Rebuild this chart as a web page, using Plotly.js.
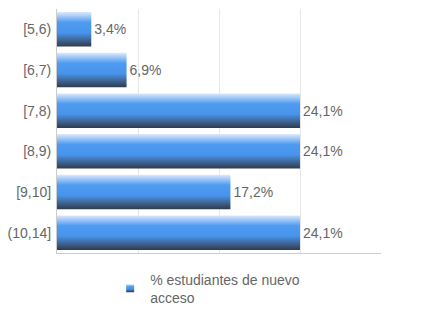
<!DOCTYPE html>
<html><head><meta charset="utf-8">
<script src="https://cdn.plot.ly/plotly-3.0.1.min.js"></script>
<style>html,body{margin:0;padding:0;background:#fff}#chart{width:432px;height:324px}</style>
</head><body><div id="chart"></div>
<script>
const categories = ['[5,6)', '[6,7)', '[7,8)', '[8,9)', '[9,10]', '(10,14]'];
const values = [3.4, 6.9, 24.1, 24.1, 17.2, 24.1];
const valueLabels = ['3,4%', '6,9%', '24,1%', '24,1%', '17,2%', '24,1%'];
const seriesName = '% estudiantes de nuevo<br>acceso';

const traces = [{
  type: 'bar', orientation: 'h', y: categories, x: values, width: 0.85,
  marker: {color: 'rgb(74,150,238)', line: {width: 0}},
  text: valueLabels, textposition: 'outside', cliponaxis: false,
  textfont: {color: '#666', size: 14, family: 'Liberation Sans, Arial, sans-serif'},
  showlegend: false, hoverinfo: 'skip'
}, {
  type: 'scatter', mode: 'markers', x: [null], y: [null], name: seriesName,
  marker: {symbol: 'square', size: 8, color: 'rgb(76,150,238)'}, showlegend: true
}];

const layout = {
  width: 432, height: 324,
  margin: {l: 57, r: 51, t: 8.6, b: 70.6},
  paper_bgcolor: '#fff', plot_bgcolor: '#fff',
  font: {family: 'Liberation Sans, Arial, sans-serif', color: '#666', size: 14},
  xaxis: {range: [0, 32.133], tick0: 0, dtick: 8.0333, showticklabels: false,
    showgrid: true, gridcolor: '#e6e6e6', zeroline: false,
    showline: true, linecolor: '#cccccc', linewidth: 1, fixedrange: true},
  yaxis: {type: 'category', autorange: 'reversed', showgrid: false, zeroline: false,
    showline: true, linecolor: '#cccccc', ticks: '', ticklabelstandoff: 2,
    tickfont: {size: 14, color: '#666'}},
  legend: {orientation: 'h', x: 0.465, xanchor: 'center', y: -0.043, yanchor: 'top',
    font: {size: 14, color: '#666'}},
  showlegend: true
};
Plotly.newPlot('chart', traces, layout, {displayModeBar: false, staticPlot: true}).then(function (gd) {
  const NS = 'http://www.w3.org/2000/svg';
  const svg = gd.querySelector('svg.main-svg');
  let defs = svg.querySelector('defs');
  if (!defs) { defs = document.createElementNS(NS, 'defs'); svg.insertBefore(defs, svg.firstChild); }
  const g = document.createElementNS(NS, 'linearGradient');
  g.setAttribute('id', 'barGrad');
  g.setAttribute('x1', '0'); g.setAttribute('y1', '0'); g.setAttribute('x2', '0'); g.setAttribute('y2', '1');
  [['0', '#dde9fb'], ['0.3', '#4f9bf1'], ['0.6', '#4894ec'], ['0.85', '#3c5c84'], ['1', '#2d3b4f']].forEach(function (s) {
    const st = document.createElementNS(NS, 'stop');
    st.setAttribute('offset', s[0]); st.setAttribute('stop-color', s[1]);
    g.appendChild(st);
  });
  defs.appendChild(g);
  gd.querySelectorAll('.barlayer .point path').forEach(function (p) { p.style.fill = 'url(#barGrad)'; });
  gd.querySelectorAll('.legend .legendpoints path').forEach(function (p) { p.style.fill = 'url(#barGrad)'; });
});
</script></body></html>
